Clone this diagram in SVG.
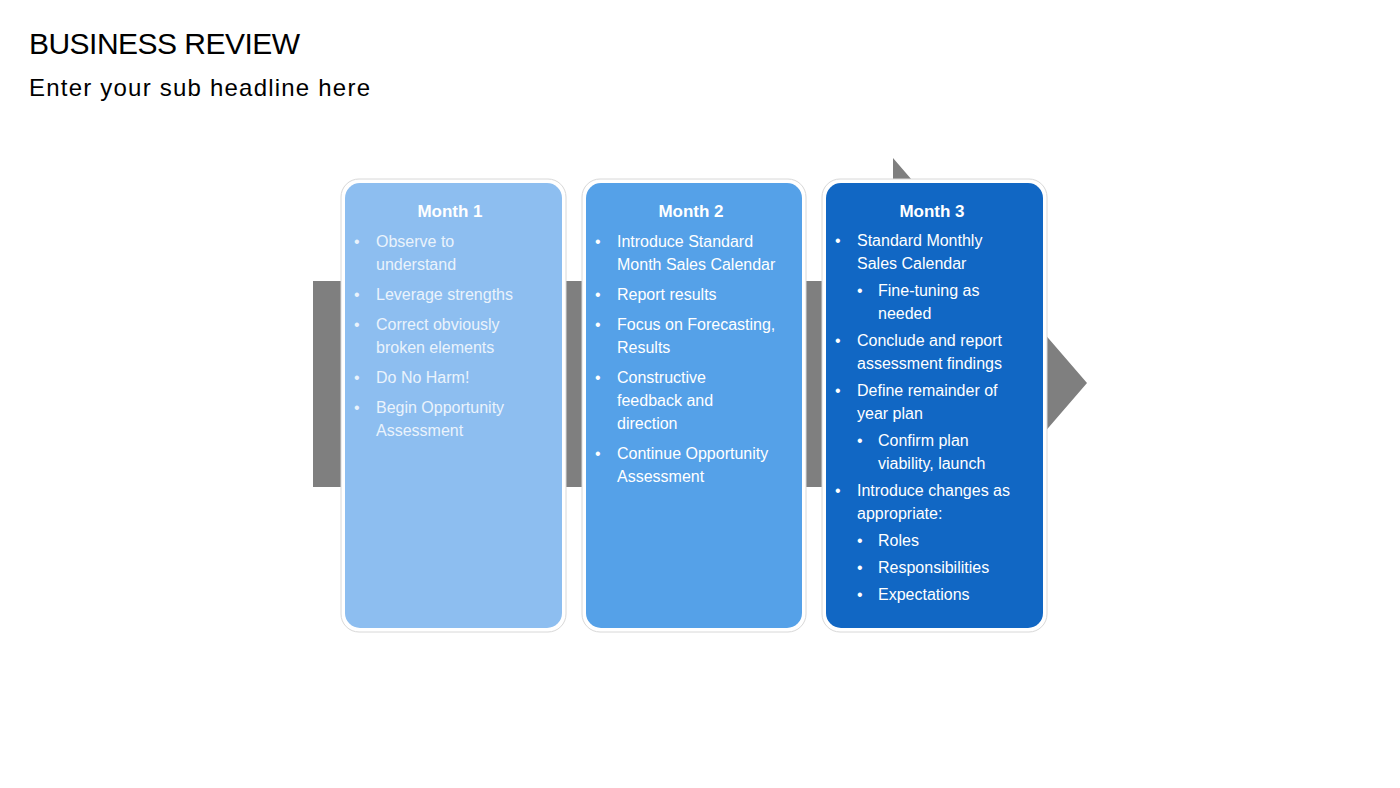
<svg xmlns="http://www.w3.org/2000/svg" width="1400" height="788" viewBox="0 0 1400 788">
<style>
text{font-family:"Liberation Sans",Arial,sans-serif;}
.h{font-size:17px;font-weight:bold;fill:#fff;text-anchor:middle}
.t{font-size:16px;fill:#fff}
.l{fill:#EAF3FC}
.outer{fill:#fff;stroke:#d8d8d8;stroke-width:1}
</style>
<rect width="1400" height="788" fill="#fff"/>
<text x="29" y="54" font-size="30" textLength="271">BUSINESS REVIEW</text>
<text x="29" y="96" font-size="24" textLength="341">Enter your sub headline here</text>
<g id="arrow"><polygon points="313,281 893,281 893,158 1087,383 893,608 893,487 313,487" fill="#7F7F7F"/></g>
<g id="month1">
<rect class="outer" x="341" y="179" width="225" height="453" rx="18"/>
<rect x="345" y="183" width="217" height="445" rx="15" fill="#8DBEF0"/>
<text class="h" x="450" y="217">Month 1</text>
<g class="t l">
<text x="354" y="247">•</text><text x="376" y="247">Observe to</text><text x="376" y="270">understand</text>
<text x="354" y="300">•</text><text x="376" y="300">Leverage strengths</text>
<text x="354" y="330">•</text><text x="376" y="330">Correct obviously</text><text x="376" y="353">broken elements</text>
<text x="354" y="383">•</text><text x="376" y="383">Do No Harm!</text>
<text x="354" y="413">•</text><text x="376" y="413">Begin Opportunity</text><text x="376" y="436">Assessment</text>
</g></g>
<g id="month2">
<rect class="outer" x="582" y="179" width="224" height="453" rx="18"/>
<rect x="586" y="183" width="216" height="445" rx="15" fill="#55A1E8"/>
<text class="h" x="691" y="217">Month 2</text>
<g class="t">
<text x="595" y="247">•</text><text x="617" y="247">Introduce Standard</text><text x="617" y="270">Month Sales Calendar</text>
<text x="595" y="300">•</text><text x="617" y="300">Report results</text>
<text x="595" y="330">•</text><text x="617" y="330">Focus on Forecasting,</text><text x="617" y="353">Results</text>
<text x="595" y="383">•</text><text x="617" y="383">Constructive</text><text x="617" y="406">feedback and</text><text x="617" y="429">direction</text>
<text x="595" y="459">•</text><text x="617" y="459">Continue Opportunity</text><text x="617" y="482">Assessment</text>
</g></g>
<g id="month3">
<rect class="outer" x="822" y="179" width="225" height="453" rx="18"/>
<rect x="826" y="183" width="217" height="445" rx="15" fill="#1167C4"/>
<text class="h" x="932" y="217">Month 3</text>
<g class="t">
<text x="835" y="246">•</text><text x="857" y="246">Standard Monthly</text><text x="857" y="269">Sales Calendar</text>
<text x="857" y="296">•</text><text x="878" y="296">Fine-tuning as</text><text x="878" y="319">needed</text>
<text x="835" y="346">•</text><text x="857" y="346">Conclude and report</text><text x="857" y="369">assessment findings</text>
<text x="835" y="396">•</text><text x="857" y="396">Define remainder of</text><text x="857" y="419">year plan</text>
<text x="857" y="446">•</text><text x="878" y="446">Confirm plan</text><text x="878" y="469">viability, launch</text>
<text x="835" y="496">•</text><text x="857" y="496">Introduce changes as</text><text x="857" y="519">appropriate:</text>
<text x="857" y="546">•</text><text x="878" y="546">Roles</text>
<text x="857" y="573">•</text><text x="878" y="573">Responsibilities</text>
<text x="857" y="600">•</text><text x="878" y="600">Expectations</text>
</g></g>
<g id="connectors"/>
</svg>
